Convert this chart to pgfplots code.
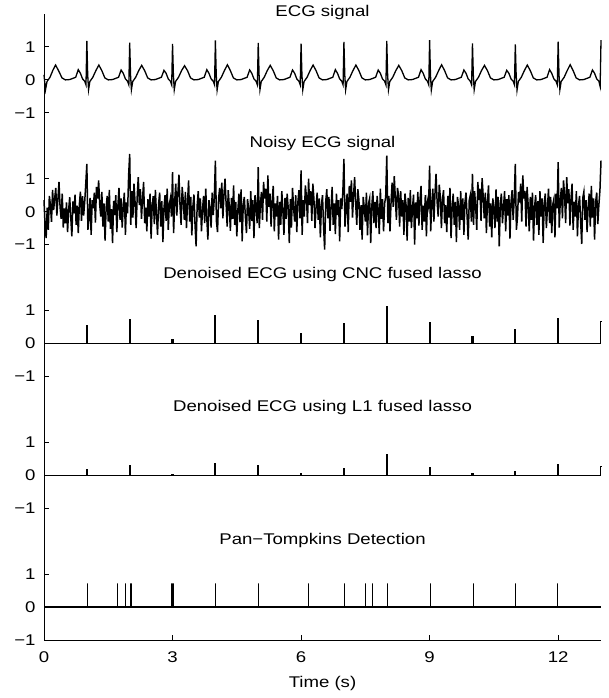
\documentclass[border=0pt]{standalone}
\usepackage{fontspec}
\setmainfont{Liberation Sans}[FakeStretch=1.2]
\usepackage{pgfplots}
\pgfplotsset{compat=1.18}
\begin{document}
\begin{tikzpicture}[font=\fontsize{15.5}{18}\selectfont]
\path[use as bounding box] (-44pt,-58pt) rectangle (564pt,640pt);
\begin{axis}[
  at={(0,0)}, anchor=south west,
  scale only axis, width=557pt, height=626pt,
  xmin=0, xmax=13, ymin=-1, ymax=18,
  axis x line*=bottom, axis y line*=left,
  axis line style={-, line width=0.9pt},
  tick style={line width=0.9pt, black}, major tick length=5pt, tick align=inside,
  xtick={0,3,6,9,12}, xticklabels={0,3,6,9,12},
  ytick={-1,0,1,3,4,5,7,8,9,11,12,13,15,16,17},
  yticklabels={−1,0,1,−1,0,1,−1,0,1,−1,0,1,−1,0,1},
  tick label style={font=\fontsize{15.5}{18}\selectfont},
  yticklabel style={xshift=-5pt},
  xticklabel style={yshift=-8pt},
  xlabel={Time (s)},
  xlabel style={yshift=-7pt},
  label style={font=\fontsize{15.5}{18}\selectfont},
  clip=false,
  cycle list={{black,mark=none}},
]
% ECG signal (offset 16)
\addplot[black, line width=1.3pt] table[row sep=\\, y expr=\thisrowno{1}+16] {
0 0.15\\ 0.035 -0.30\\ 0.07 -0.05\\ 0.14 0.08\\ 0.21 0.30\\ 0.27 0.45\\ 0.34 0.28\\ 0.42 0.06\\ 0.50 0.00\\
0.60 0.01\\ 0.74 0.08\\ 0.80 0.31\\ 0.85 0.20\\ 0.90 0.03\\ 0.95 -0.04\\ 0.98 -0.15\\ 1 1.18\\ 1.02 0.15\\ 1.04 -0.30\\ 1.07 -0.05\\ 1.14 0.08\\ 1.21 0.28\\ 1.28 0.45\\ 1.35 0.28\\ 1.42 0.06\\ 1.50 0.00\\
1.60 0.01\\ 1.74 0.08\\ 1.80 0.30\\ 1.85 0.20\\ 1.90 0.03\\ 1.95 -0.04\\ 1.98 -0.15\\ 2 1.13\\ 2.02 0.15\\ 2.04 -0.30\\ 2.07 -0.05\\ 2.14 0.08\\ 2.21 0.28\\ 2.28 0.44\\ 2.35 0.28\\ 2.42 0.06\\ 2.50 0.00\\
2.60 0.01\\ 2.74 0.08\\ 2.80 0.29\\ 2.85 0.20\\ 2.90 0.03\\ 2.95 -0.04\\ 2.98 -0.15\\ 3 1.09\\ 3.02 0.15\\ 3.04 -0.30\\ 3.07 -0.05\\ 3.14 0.08\\ 3.21 0.28\\ 3.28 0.43\\ 3.35 0.28\\ 3.42 0.06\\ 3.50 0.00\\
3.60 0.01\\ 3.74 0.08\\ 3.80 0.31\\ 3.85 0.20\\ 3.90 0.03\\ 3.95 -0.04\\ 3.98 -0.15\\ 4 1.20\\ 4.02 0.15\\ 4.04 -0.31\\ 4.07 -0.05\\ 4.14 0.08\\ 4.21 0.28\\ 4.28 0.46\\ 4.35 0.28\\ 4.42 0.06\\ 4.50 0.00\\
4.60 0.01\\ 4.74 0.08\\ 4.80 0.30\\ 4.85 0.20\\ 4.90 0.03\\ 4.95 -0.04\\ 4.98 -0.15\\ 5 1.12\\ 5.02 0.15\\ 5.04 -0.30\\ 5.07 -0.05\\ 5.14 0.08\\ 5.21 0.28\\ 5.28 0.44\\ 5.35 0.28\\ 5.42 0.06\\ 5.50 0.00\\
5.60 0.01\\ 5.74 0.08\\ 5.80 0.30\\ 5.85 0.20\\ 5.90 0.03\\ 5.95 -0.04\\ 5.98 -0.15\\ 6 1.10\\ 6.02 0.15\\ 6.04 -0.30\\ 6.07 -0.05\\ 6.14 0.08\\ 6.21 0.28\\ 6.28 0.45\\ 6.35 0.28\\ 6.42 0.06\\ 6.50 0.00\\
6.60 0.01\\ 6.74 0.08\\ 6.80 0.31\\ 6.85 0.20\\ 6.90 0.03\\ 6.95 -0.04\\ 6.98 -0.15\\ 7 1.15\\ 7.02 0.15\\ 7.04 -0.30\\ 7.07 -0.05\\ 7.14 0.08\\ 7.21 0.28\\ 7.28 0.45\\ 7.35 0.28\\ 7.42 0.06\\ 7.50 0.00\\
7.60 0.01\\ 7.74 0.08\\ 7.80 0.30\\ 7.85 0.20\\ 7.90 0.03\\ 7.95 -0.04\\ 7.98 -0.15\\ 8 1.18\\ 8.02 0.15\\ 8.04 -0.30\\ 8.07 -0.05\\ 8.14 0.08\\ 8.21 0.28\\ 8.28 0.44\\ 8.35 0.28\\ 8.42 0.06\\ 8.50 0.00\\
8.60 0.01\\ 8.74 0.08\\ 8.80 0.31\\ 8.85 0.20\\ 8.90 0.03\\ 8.95 -0.04\\ 8.98 -0.15\\ 9 1.21\\ 9.02 0.15\\ 9.04 -0.31\\ 9.07 -0.05\\ 9.14 0.08\\ 9.21 0.28\\ 9.28 0.46\\ 9.35 0.28\\ 9.42 0.06\\ 9.50 0.00\\
9.60 0.01\\ 9.74 0.08\\ 9.80 0.30\\ 9.85 0.20\\ 9.90 0.03\\ 9.95 -0.04\\ 9.98 -0.15\\ 10 1.11\\ 10.02 0.15\\ 10.04 -0.30\\ 10.07 -0.05\\ 10.14 0.08\\ 10.21 0.28\\ 10.28 0.44\\ 10.35 0.28\\ 10.42 0.06\\ 10.50 0.00\\
10.60 0.01\\ 10.74 0.08\\ 10.80 0.29\\ 10.85 0.20\\ 10.90 0.03\\ 10.95 -0.04\\ 10.98 -0.15\\ 11 1.08\\ 11.02 0.15\\ 11.04 -0.31\\ 11.07 -0.05\\ 11.14 0.08\\ 11.21 0.28\\ 11.28 0.45\\ 11.35 0.28\\ 11.42 0.06\\ 11.50 0.00\\
11.60 0.01\\ 11.74 0.08\\ 11.80 0.31\\ 11.85 0.20\\ 11.90 0.03\\ 11.95 -0.04\\ 11.98 -0.15\\ 12 1.16\\ 12.02 0.15\\ 12.04 -0.30\\ 12.07 -0.05\\ 12.14 0.08\\ 12.21 0.28\\ 12.28 0.46\\ 12.35 0.28\\ 12.42 0.06\\ 12.50 0.00\\
12.60 0.01\\ 12.74 0.08\\ 12.80 0.30\\ 12.85 0.20\\ 12.90 0.03\\ 12.95 -0.04\\ 12.98 -0.20\\ 13 1.21\\
};
% Noisy ECG signal (offset 12)
\addplot[black, line width=1.5pt] table[row sep=\\, y expr=\thisrowno{1}+12] {
0 0.35\\ 0.025 -0.42\\ 0.05 -0.80\\ 0.075 0.12\\ 0.1 -0.55\\ 0.125 0.48\\ 0.15 0.20\\ 0.175 -0.31\\ 0.2 0.66\\ 0.225 0.05\\ 0.25 0.41\\ 0.275 0.72\\ 0.3 -0.12\\ 0.325 0.38\\ 0.35 0.90\\ 0.375 0.15\\ 0.4 -0.22\\ 0.425 0.55\\ 0.45 -0.48\\ 0.475 0.10\\ 0.5 -0.35\\ 0.525 0.28\\ 0.55 -0.62\\ 0.575 0.05\\ 0.6 0.44\\ 0.625 -0.18\\ 0.65 -0.75\\ 0.675 0.31\\ 0.7 -0.05\\ 0.725 0.52\\ 0.75 -0.40\\ 0.775 0.18\\ 0.8 -0.65\\ 0.825 0.22\\ 0.85 0.61\\ 0.875 -0.28\\ 0.9 0.47\\ 0.925 -0.12\\ 0.95 0.30\\ 0.975 0.85\\
1 1.45\\ 1.025 -0.55\\ 1.05 -0.20\\ 1.075 0.42\\ 1.1 -0.70\\ 1.125 0.35\\ 1.15 0.10\\ 1.175 0.58\\ 1.2 -0.33\\ 1.225 0.75\\ 1.25 0.40\\ 1.275 0.95\\ 1.3 0.22\\ 1.325 -0.15\\ 1.35 0.60\\ 1.375 -0.45\\ 1.4 0.25\\ 1.425 -0.88\\ 1.45 0.12\\ 1.475 0.48\\ 1.5 -0.30\\ 1.525 0.66\\ 1.55 -0.52\\ 1.575 0.08\\ 1.6 -0.95\\ 1.625 0.33\\ 1.65 -0.10\\ 1.675 0.50\\ 1.7 -0.62\\ 1.725 0.18\\ 1.75 0.72\\ 1.775 -0.25\\ 1.8 0.40\\ 1.825 -0.48\\ 1.85 0.15\\ 1.875 0.58\\ 1.9 -0.70\\ 1.925 0.28\\ 1.95 -0.05\\ 1.975 1.10\\
2 1.75\\ 2.025 -0.40\\ 2.05 0.62\\ 2.075 -0.18\\ 2.1 0.85\\ 2.125 0.30\\ 2.15 -0.50\\ 2.175 0.45\\ 2.2 1.05\\ 2.225 0.20\\ 2.25 0.68\\ 2.275 -0.22\\ 2.3 0.40\\ 2.325 0.90\\ 2.35 -0.35\\ 2.375 0.12\\ 2.4 -0.60\\ 2.425 0.38\\ 2.45 -0.15\\ 2.475 0.55\\ 2.5 -0.82\\ 2.525 0.20\\ 2.55 0.47\\ 2.575 -0.38\\ 2.6 0.66\\ 2.625 -0.10\\ 2.65 -0.70\\ 2.675 0.25\\ 2.7 0.58\\ 2.725 -0.45\\ 2.75 0.32\\ 2.775 -0.92\\ 2.8 0.10\\ 2.825 0.50\\ 2.85 -0.28\\ 2.875 0.70\\ 2.9 -0.55\\ 2.925 0.22\\ 2.95 0.40\\ 2.975 -0.15\\
3 1.20\\ 3.025 -0.65\\ 3.05 0.30\\ 3.075 0.85\\ 3.1 -0.12\\ 3.125 0.55\\ 3.15 1.12\\ 3.175 0.18\\ 3.2 -0.40\\ 3.225 0.75\\ 3.25 0.35\\ 3.275 -0.25\\ 3.3 0.60\\ 3.325 -0.50\\ 3.35 0.28\\ 3.375 0.95\\ 3.4 -0.30\\ 3.425 0.45\\ 3.45 -0.72\\ 3.475 0.15\\ 3.5 0.52\\ 3.525 -0.40\\ 3.55 -1.05\\ 3.575 0.20\\ 3.6 0.62\\ 3.625 -0.18\\ 3.65 0.40\\ 3.675 -0.60\\ 3.7 0.08\\ 3.725 0.48\\ 3.75 -0.35\\ 3.775 0.70\\ 3.8 -0.20\\ 3.825 -0.85\\ 3.85 0.35\\ 3.875 0.12\\ 3.9 -0.48\\ 3.925 0.58\\ 3.95 -0.10\\ 3.975 0.42\\
4 1.55\\ 4.025 -0.30\\ 4.05 -0.62\\ 4.075 0.40\\ 4.1 0.72\\ 4.125 0.10\\ 4.15 0.88\\ 4.175 -0.20\\ 4.2 0.52\\ 4.225 1.00\\ 4.25 0.25\\ 4.275 -0.45\\ 4.3 0.65\\ 4.325 0.15\\ 4.35 -0.58\\ 4.375 0.42\\ 4.4 -0.22\\ 4.425 0.80\\ 4.45 -0.40\\ 4.475 0.30\\ 4.5 -0.75\\ 4.525 0.05\\ 4.55 0.55\\ 4.575 -0.32\\ 4.6 0.68\\ 4.625 -0.90\\ 4.65 0.20\\ 4.675 0.45\\ 4.7 -0.15\\ 4.725 -0.65\\ 4.75 0.38\\ 4.775 0.10\\ 4.8 -0.52\\ 4.825 0.62\\ 4.85 -0.28\\ 4.875 0.35\\ 4.9 -0.80\\ 4.925 0.50\\ 4.95 0.18\\ 4.975 -0.35\\
5 1.35\\ 5.025 -0.50\\ 5.05 0.20\\ 5.075 0.60\\ 5.1 -0.25\\ 5.125 0.90\\ 5.15 0.40\\ 5.175 0.70\\ 5.2 -0.30\\ 5.225 1.10\\ 5.25 0.15\\ 5.275 0.55\\ 5.3 -0.45\\ 5.325 0.32\\ 5.35 0.78\\ 5.375 -0.60\\ 5.4 0.25\\ 5.425 -0.15\\ 5.45 0.48\\ 5.475 -0.85\\ 5.5 0.30\\ 5.525 -0.40\\ 5.55 0.62\\ 5.575 0.05\\ 5.6 -0.70\\ 5.625 0.42\\ 5.65 -0.22\\ 5.675 0.55\\ 5.7 0.10\\ 5.725 -0.95\\ 5.75 0.38\\ 5.775 -0.48\\ 5.8 0.72\\ 5.825 0.12\\ 5.85 -0.30\\ 5.875 0.50\\ 5.9 -0.62\\ 5.925 0.28\\ 5.95 0.65\\ 5.975 -0.20\\
6 1.25\\ 6.025 -0.70\\ 6.05 0.35\\ 6.075 -0.15\\ 6.1 0.80\\ 6.125 0.45\\ 6.15 -0.35\\ 6.175 1.00\\ 6.2 0.20\\ 6.225 0.62\\ 6.25 -0.28\\ 6.275 0.85\\ 6.3 0.38\\ 6.325 -0.50\\ 6.35 0.15\\ 6.375 0.58\\ 6.4 -0.25\\ 6.425 0.40\\ 6.45 -0.78\\ 6.475 0.22\\ 6.5 0.50\\ 6.525 -0.45\\ 6.55 -1.15\\ 6.575 0.30\\ 6.6 0.68\\ 6.625 -0.20\\ 6.65 0.45\\ 6.675 -0.58\\ 6.7 0.12\\ 6.725 0.75\\ 6.75 -0.40\\ 6.775 0.25\\ 6.8 -0.68\\ 6.825 0.55\\ 6.85 -0.10\\ 6.875 0.35\\ 6.9 -0.90\\ 6.925 0.40\\ 6.95 0.08\\ 6.975 0.60\\
7 1.60\\ 7.025 -0.45\\ 7.05 0.10\\ 7.075 0.55\\ 7.1 -0.62\\ 7.125 0.78\\ 7.15 0.30\\ 7.175 0.95\\ 7.2 -0.18\\ 7.225 0.50\\ 7.25 1.05\\ 7.275 0.22\\ 7.3 -0.40\\ 7.325 0.68\\ 7.35 0.35\\ 7.375 -0.55\\ 7.4 0.20\\ 7.425 -0.85\\ 7.45 0.45\\ 7.475 0.12\\ 7.5 -0.30\\ 7.525 0.58\\ 7.55 -0.72\\ 7.575 0.25\\ 7.6 0.40\\ 7.625 -0.95\\ 7.65 0.15\\ 7.675 0.62\\ 7.7 -0.35\\ 7.725 0.30\\ 7.75 -0.50\\ 7.775 0.48\\ 7.8 0.05\\ 7.825 -0.68\\ 7.85 0.70\\ 7.875 -0.22\\ 7.9 0.38\\ 7.925 -0.60\\ 7.95 0.25\\ 7.975 0.45\\
8 1.70\\ 8.025 -0.35\\ 8.05 0.48\\ 8.075 -0.60\\ 8.1 0.30\\ 8.125 0.88\\ 8.15 0.15\\ 8.175 1.08\\ 8.2 0.40\\ 8.225 -0.25\\ 8.25 0.72\\ 8.275 0.50\\ 8.3 -0.45\\ 8.325 0.62\\ 8.35 -0.15\\ 8.375 0.35\\ 8.4 -0.70\\ 8.425 0.55\\ 8.45 0.20\\ 8.475 -0.88\\ 8.5 0.42\\ 8.525 -0.30\\ 8.55 0.65\\ 8.575 -0.50\\ 8.6 0.10\\ 8.625 0.52\\ 8.65 -1.00\\ 8.675 0.28\\ 8.7 -0.20\\ 8.725 0.60\\ 8.75 -0.42\\ 8.775 0.35\\ 8.8 0.78\\ 8.825 -0.55\\ 8.85 0.18\\ 8.875 -0.30\\ 8.9 0.50\\ 8.925 -0.75\\ 8.95 0.32\\ 8.975 0.15\\
9 1.40\\ 9.025 -0.60\\ 9.05 0.25\\ 9.075 0.70\\ 9.1 -0.30\\ 9.125 0.55\\ 9.15 1.15\\ 9.175 0.30\\ 9.2 -0.15\\ 9.225 0.82\\ 9.25 0.45\\ 9.275 -0.50\\ 9.3 0.38\\ 9.325 0.65\\ 9.35 -0.35\\ 9.375 0.20\\ 9.4 -0.62\\ 9.425 0.48\\ 9.45 -0.18\\ 9.475 0.72\\ 9.5 -0.80\\ 9.525 0.10\\ 9.55 0.55\\ 9.575 -0.40\\ 9.6 0.30\\ 9.625 -0.92\\ 9.65 0.45\\ 9.675 0.18\\ 9.7 -0.55\\ 9.725 0.62\\ 9.75 -0.25\\ 9.775 0.40\\ 9.8 -0.70\\ 9.825 0.28\\ 9.85 0.58\\ 9.875 -0.15\\ 9.9 -0.85\\ 9.925 0.35\\ 9.95 0.50\\ 9.975 -0.30\\
10 1.15\\ 10.025 -0.40\\ 10.05 0.62\\ 10.075 0.15\\ 10.1 -0.55\\ 10.125 0.90\\ 10.15 0.35\\ 10.175 0.70\\ 10.2 -0.28\\ 10.225 1.02\\ 10.25 0.48\\ 10.275 -0.20\\ 10.3 0.58\\ 10.325 -0.65\\ 10.35 0.30\\ 10.375 0.80\\ 10.4 -0.45\\ 10.425 0.25\\ 10.45 -0.78\\ 10.475 0.40\\ 10.5 0.12\\ 10.525 -0.50\\ 10.55 0.68\\ 10.575 -0.30\\ 10.6 0.45\\ 10.625 -1.05\\ 10.65 0.22\\ 10.675 0.55\\ 10.7 -0.35\\ 10.725 0.15\\ 10.75 0.62\\ 10.775 -0.60\\ 10.8 0.38\\ 10.825 -0.12\\ 10.85 0.50\\ 10.875 -0.82\\ 10.9 0.30\\ 10.925 0.65\\ 10.95 -0.25\\ 10.975 0.40\\
11 1.45\\ 11.025 -0.55\\ 11.05 -0.18\\ 11.075 0.60\\ 11.1 0.28\\ 11.125 0.85\\ 11.15 -0.30\\ 11.175 1.10\\ 11.2 0.40\\ 11.225 0.62\\ 11.25 -0.45\\ 11.275 0.75\\ 11.3 0.20\\ 11.325 -0.60\\ 11.35 0.45\\ 11.375 -0.25\\ 11.4 0.58\\ 11.425 -0.88\\ 11.45 0.15\\ 11.475 0.50\\ 11.5 -0.40\\ 11.525 0.32\\ 11.55 -0.70\\ 11.575 0.62\\ 11.6 -0.15\\ 11.625 0.40\\ 11.65 -0.95\\ 11.675 0.28\\ 11.7 0.55\\ 11.725 -0.50\\ 11.75 0.12\\ 11.775 0.70\\ 11.8 -0.35\\ 11.825 0.45\\ 11.85 -0.65\\ 11.875 0.22\\ 11.9 0.38\\ 11.925 -0.78\\ 11.95 0.55\\ 11.975 0.10\\
12 1.50\\ 12.025 -0.48\\ 12.05 0.35\\ 12.075 0.72\\ 12.1 -0.20\\ 12.125 0.95\\ 12.15 0.50\\ 12.175 -0.35\\ 12.2 1.05\\ 12.225 0.25\\ 12.25 0.68\\ 12.275 -0.42\\ 12.3 0.40\\ 12.325 0.85\\ 12.35 -0.55\\ 12.375 0.30\\ 12.4 -0.15\\ 12.425 0.62\\ 12.45 -0.75\\ 12.475 0.20\\ 12.5 0.48\\ 12.525 -0.30\\ 12.55 -0.98\\ 12.575 0.42\\ 12.6 0.60\\ 12.625 -0.25\\ 12.65 0.35\\ 12.675 -0.62\\ 12.7 0.15\\ 12.725 0.55\\ 12.75 -0.45\\ 12.775 0.78\\ 12.8 -0.18\\ 12.825 0.40\\ 12.85 -0.85\\ 12.875 0.30\\ 12.9 0.58\\ 12.925 -0.38\\ 12.95 0.20\\ 12.975 0.65\\
13 1.55\\
};
% Denoised ECG, CNC fused lasso (offset 8)
\addplot[black, line width=1.3pt] table[row sep=\\, y expr=\thisrowno{1}+8] {
0 0\\ 0.99 0\\ 0.99 0.55\\ 1.01 0.55\\ 1.01 0\\
1.99 0\\ 1.99 0.73\\ 2.01 0.73\\ 2.01 0\\
2.99 0\\ 2.99 0.12\\ 3.01 0.12\\ 3.01 0\\
3.99 0\\ 3.99 0.83\\ 4.01 0.83\\ 4.01 0\\
4.99 0\\ 4.99 0.70\\ 5.01 0.70\\ 5.01 0\\
5.99 0\\ 5.99 0.31\\ 6.01 0.31\\ 6.01 0\\
6.99 0\\ 6.99 0.60\\ 7.01 0.60\\ 7.01 0\\
7.99 0\\ 7.99 1.12\\ 8.01 1.12\\ 8.01 0\\
8.99 0\\ 8.99 0.62\\ 9.01 0.62\\ 9.01 0\\
9.99 0\\ 9.99 0.22\\ 10.01 0.22\\ 10.01 0\\
10.99 0\\ 10.99 0.42\\ 11.01 0.42\\ 11.01 0\\
11.99 0\\ 11.99 0.75\\ 12.01 0.75\\ 12.01 0\\
12.99 0\\ 12.99 0.67\\ 13 0.67\\
};
% Denoised ECG, L1 fused lasso (offset 4)
\addplot[black, line width=1.3pt] table[row sep=\\, y expr=\thisrowno{1}+4] {
0 0\\ 0.99 0\\ 0.99 0.17\\ 1.01 0.17\\ 1.01 0\\
1.99 0\\ 1.99 0.29\\ 2.01 0.29\\ 2.01 0\\
2.99 0\\ 2.99 0.03\\ 3.01 0.03\\ 3.01 0\\
3.99 0\\ 3.99 0.34\\ 4.01 0.34\\ 4.01 0\\
4.99 0\\ 4.99 0.28\\ 5.01 0.28\\ 5.01 0\\
5.99 0\\ 5.99 0.06\\ 6.01 0.06\\ 6.01 0\\
6.99 0\\ 6.99 0.19\\ 7.01 0.19\\ 7.01 0\\
7.99 0\\ 7.99 0.62\\ 8.01 0.62\\ 8.01 0\\
8.99 0\\ 8.99 0.22\\ 9.01 0.22\\ 9.01 0\\
9.99 0\\ 9.99 0.04\\ 10.01 0.04\\ 10.01 0\\
10.99 0\\ 10.99 0.10\\ 11.01 0.10\\ 11.01 0\\
11.99 0\\ 11.99 0.31\\ 12.01 0.31\\ 12.01 0\\
12.99 0\\ 12.99 0.26\\ 13 0.26\\
};
% Pan-Tompkins detection (offset 0)
\addplot[black, line width=1.3pt] table[row sep=\\] {
0 0\\ 1.01 0\\ 1.01 0.72\\ 1.01 0\\ 1.72 0\\ 1.72 0.72\\ 1.72 0\\ 1.90 0\\ 1.90 0.72\\ 1.90 0\\ 2.03 0\\ 2.03 0.72\\ 2.03 0\\
2.99 0\\ 2.99 0.72\\ 2.99 0\\ 3.01 0\\ 3.01 0.72\\ 3.01 0\\ 4.01 0\\ 4.01 0.72\\ 4.01 0\\ 5.01 0\\ 5.01 0.72\\ 5.01 0\\
6.18 0\\ 6.18 0.72\\ 6.18 0\\ 7.02 0\\ 7.02 0.72\\ 7.02 0\\ 7.50 0\\ 7.50 0.72\\ 7.50 0\\ 7.67 0\\ 7.67 0.72\\ 7.67 0\\
8.02 0\\ 8.02 0.72\\ 8.02 0\\ 9.02 0\\ 9.02 0.72\\ 9.02 0\\ 10.02 0\\ 10.02 0.72\\ 10.02 0\\ 11.00 0\\ 11.00 0.72\\ 11.00 0\\
11.98 0\\ 11.98 0.72\\ 11.98 0\\ 13 0\\
};
\node at (axis cs:6.5,18.06) {ECG signal};
\node at (axis cs:6.5,14.06) {Noisy ECG signal};
\node at (axis cs:6.5,10.08) {Denoised ECG using CNC fused lasso};
\node at (axis cs:6.5,6.06) {Denoised ECG using L1 fused lasso};
\node at (axis cs:6.5,2.03) {Pan−Tompkins Detection};
\end{axis}
\end{tikzpicture}
\end{document}
